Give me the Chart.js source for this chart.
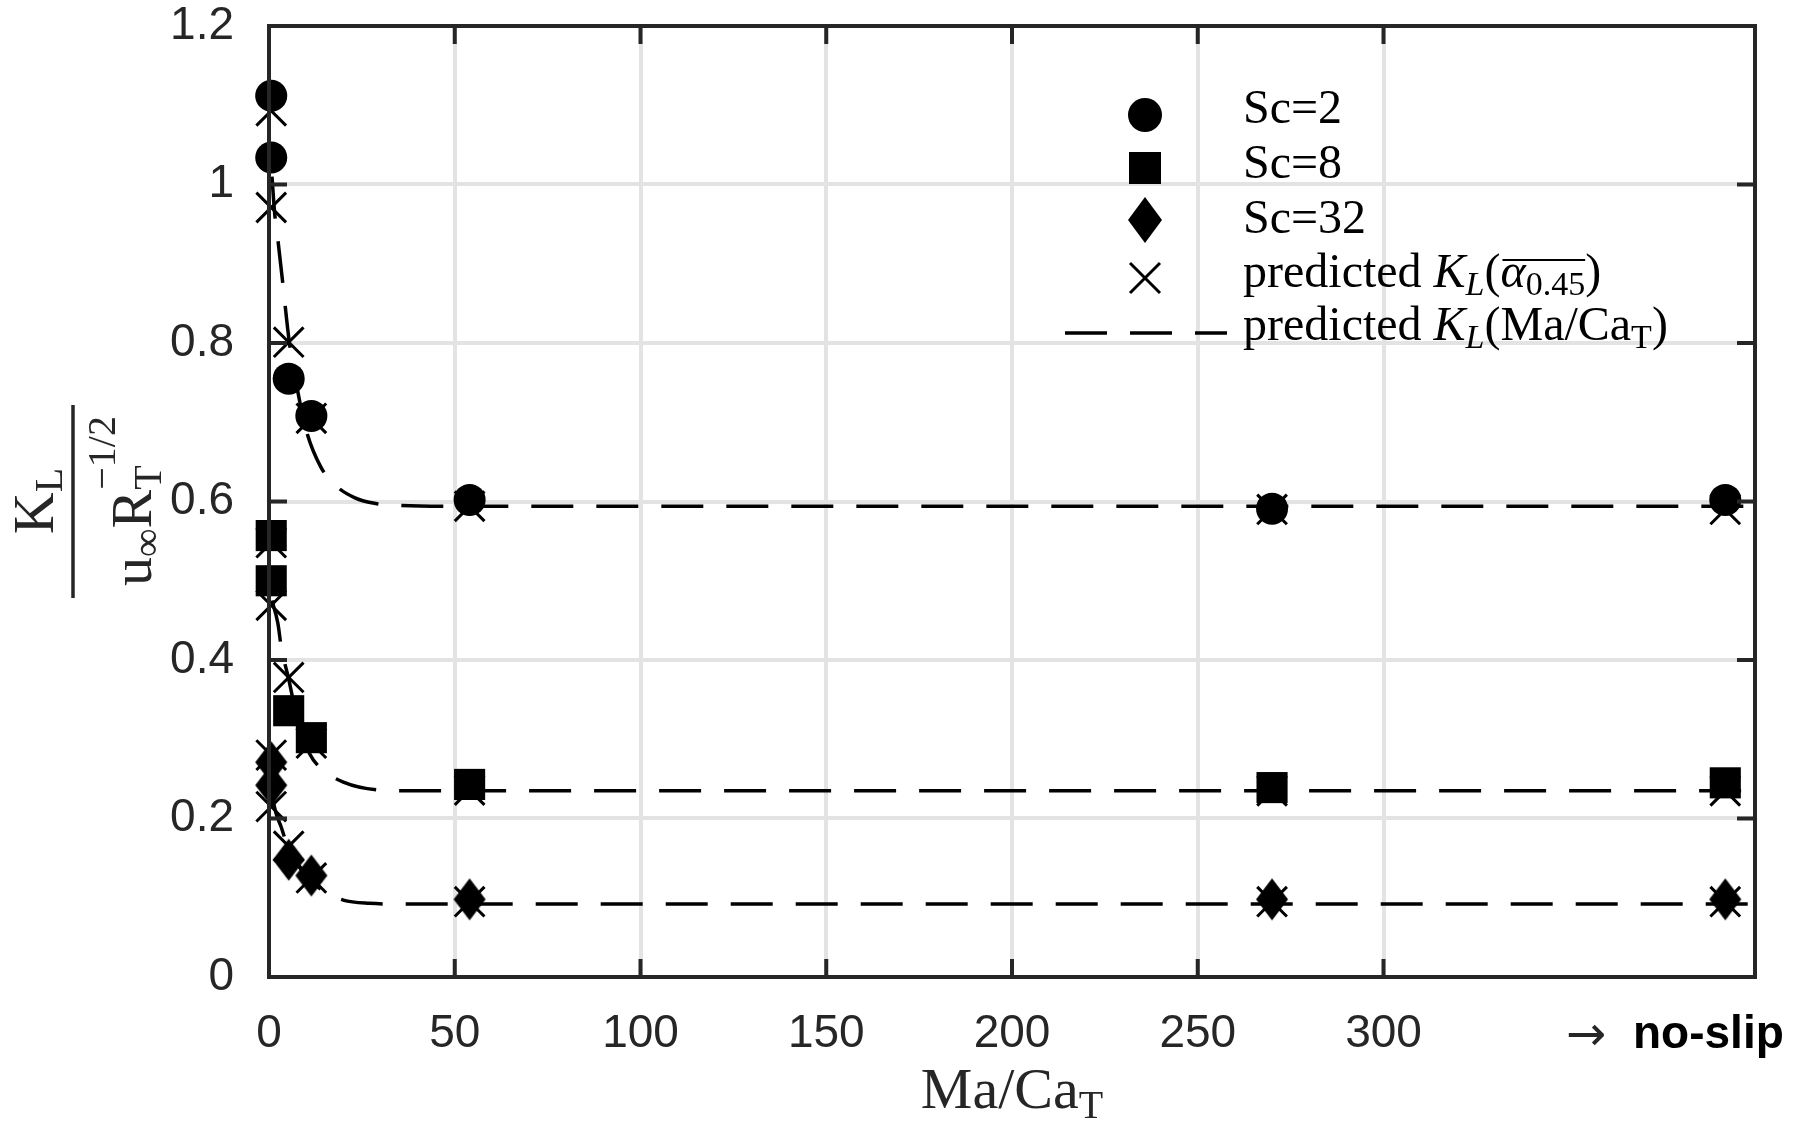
<!DOCTYPE html>
<html>
<head>
<meta charset="utf-8">
<title>K_L vs Ma/Ca_T</title>
<script src="https://cdn.jsdelivr.net/npm/chart.js@4.4.0/dist/chart.umd.min.js"></script>
<style>
    body { margin: 0; background: #fff; }
    #wrap { width: 1810px; height: 1121px; }
</style>
</head>
<body>
<div id="wrap"><canvas id="chart"></canvas></div>
<script>
//Ma/Ca_T of the runs, last column is the no-slip case
var maCa = [0.6, 0.6, 5.3, 11.4, 54, 270, 392];
//measured K_L / (u R^-1/2)
var sc2 = [1.112, 1.034, 0.755, 0.708, 0.602, 0.591, 0.602];
var sc8 = [0.557, 0.500, 0.336, 0.302, 0.243, 0.239, 0.245];
var sc32 = [0.271, 0.242, 0.148, 0.128, 0.098, 0.098, 0.098];
//predicted K_L(alpha 0.45)
var predAlpha2 = [1.093, 0.971, 0.801, 0.705, 0.594, 0.590, 0.590];
var predAlpha8 = [0.548, 0.469, 0.378, 0.295, 0.236, 0.235, 0.235];
var predAlpha32 = [0.280, 0.215, 0.165, 0.125, 0.095, 0.095, 0.095];
//predicted K_L(Ma/Ca_T) curves
var curve2X = [0.8, 1.5, 2.4, 3.6, 5.5, 7.5, 10, 14, 18.5, 23, 28, 35, 50, 400];
var curve2Y = [1.01, 0.965, 0.93, 0.88, 0.80, 0.745, 0.69, 0.643, 0.618, 0.605, 0.598, 0.595, 0.594, 0.594];
var curve8X = [0.8, 2.4, 3.3, 5.2, 8, 10.9, 14, 20, 30, 40, 400];
var curve8Y = [0.475, 0.446, 0.416, 0.378, 0.318, 0.282, 0.263, 0.246, 0.236, 0.235, 0.235];
var curve32X = [0.8, 2, 3.3, 4.5, 6.5, 9, 12, 14.5, 20, 27, 37, 400];
var curve32Y = [0.228, 0.205, 0.189, 0.172, 0.152, 0.133, 0.118, 0.109, 0.097, 0.093, 0.092, 0.092];
//axes
var xTicks = [0, 50, 100, 150, 200, 250, 300];
var yTicks = [0, 0.2, 0.4, 0.6, 0.8, 1, 1.2];

var dark = '#262626';
var serif = '"Liberation Serif", "Times New Roman", serif';
var sans = '"Liberation Sans", Arial, sans-serif';

function pts(xs, ys) {
    return xs.map(function (x, i) { return { x: x, y: ys[i] }; });
}

//Matlab-like diamond (taller than wide)
function makeDiamond(w, h) {
    var c = document.createElement('canvas');
    c.width = w + 2;
    c.height = h + 2;
    var g = c.getContext('2d');
    g.fillStyle = '#000';
    g.beginPath();
    g.moveTo(1 + w / 2, 1);
    g.lineTo(1 + w, 1 + h / 2);
    g.lineTo(1 + w / 2, 1 + h);
    g.lineTo(1, 1 + h / 2);
    g.closePath();
    g.fill();
    return c;
}
var diamondPlot = makeDiamond(32, 42);
var diamondLegend = makeDiamond(34, 46);

//text with sub/superscripts, returns width
function richText(ctx, x, y, parts, draw, overH) {
    var cx = x, lastStart = x, ox0 = null, ox1 = null;
    parts.forEach(function (p) {
        ctx.font = (p.style || 'normal') + ' ' + p.size + 'px ' + (p.family || serif);
        var w = ctx.measureText(p.t).width;
        var start = p.stack ? lastStart : cx;
        if (draw) ctx.fillText(p.t, start, y + (p.dy || 0));
        if (p.over) {
            ox0 = ox0 === null ? start : Math.min(ox0, start);
            ox1 = ox1 === null ? start + w : Math.max(ox1, start + w);
        }
        cx = Math.max(cx, start + w);
        lastStart = start;
    });
    if (draw && ox0 !== null) {
        ctx.save();
        ctx.lineWidth = 2;
        ctx.beginPath();
        ctx.moveTo(ox0 + 2, y - overH);
        ctx.lineTo(ox1, y - overH);
        ctx.stroke();
        ctx.restore();
    }
    return cx - x;
}

var decorPlugin = {
    id: 'decor',
    afterDraw: function (chart) {
        var ctx = chart.ctx;
        var a = chart.chartArea;
        var xs = chart.scales.x, ys = chart.scales.y;
        ctx.save();
        ctx.strokeStyle = dark;
        ctx.fillStyle = dark;
        //inward ticks
        ctx.lineWidth = 4;
        ctx.beginPath();
        xTicks.forEach(function (v) {
            var p = xs.getPixelForValue(v);
            ctx.moveTo(p, a.bottom); ctx.lineTo(p, a.bottom - 18);
            ctx.moveTo(p, a.top); ctx.lineTo(p, a.top + 18);
        });
        yTicks.forEach(function (v) {
            var p = ys.getPixelForValue(v);
            ctx.moveTo(a.left, p); ctx.lineTo(a.left + 18, p);
            ctx.moveTo(a.right, p); ctx.lineTo(a.right - 18, p);
        });
        ctx.stroke();
        //box
        ctx.strokeRect(a.left, a.top, a.right - a.left, a.bottom - a.top);

        //x title
        ctx.textBaseline = 'alphabetic';
        ctx.textAlign = 'left';
        var xt = [{ t: 'Ma/Ca', size: 58 }, { t: 'T', size: 40, dy: 10 }];
        var w = richText(ctx, 0, 0, xt, false);
        richText(ctx, (a.left + a.right) / 2 - w / 2, 1108, xt, true);

        //y title (fraction, rotated)
        ctx.save();
        ctx.translate(73, 501);
        ctx.rotate(-Math.PI / 2);
        ctx.lineWidth = 3.5;
        ctx.beginPath();
        ctx.moveTo(-97, 0);
        ctx.lineTo(96, 0);
        ctx.stroke();
        var num = [{ t: 'K', size: 58 }, { t: 'L', size: 40, dy: 9 }];
        w = richText(ctx, 0, 0, num, false);
        richText(ctx, -w / 2, -20, num, true);
        var den = [
            { t: 'u', size: 58 },
            { t: '\u221E', size: 40, dy: 9 },
            { t: 'R', size: 58 },
            { t: 'T', size: 40, dy: 10 },
            { t: '\u22121/2', size: 40, dy: -36, stack: true }
        ];
        w = richText(ctx, 0, 0, den, false);
        richText(ctx, -w / 2, 78, den, true);
        ctx.restore();

        //no-slip label
        ctx.font = '48px "DejaVu Sans", ' + sans;
        ctx.fillText('\u2192', 1566, 1050);
        ctx.font = 'bold 46px ' + sans;
        ctx.fillStyle = '#000';
        ctx.fillText('no-slip', 1633, 1048);

        //legend
        ctx.fillStyle = '#000';
        ctx.strokeStyle = '#000';
        var mx = 1145, tx = 1243;
        ctx.beginPath();
        ctx.arc(mx, 115, 17, 0, Math.PI * 2);
        ctx.fill();
        ctx.fillRect(mx - 16, 168 - 16, 32, 32);
        ctx.drawImage(diamondLegend, mx - diamondLegend.width / 2, 220 - diamondLegend.height / 2);
        ctx.lineWidth = 3;
        ctx.beginPath();
        ctx.moveTo(mx - 15, 278 - 15); ctx.lineTo(mx + 15, 278 + 15);
        ctx.moveTo(mx + 15, 278 - 15); ctx.lineTo(mx - 15, 278 + 15);
        ctx.stroke();
        ctx.lineWidth = 3.5;
        ctx.setLineDash([42, 23]);
        ctx.beginPath();
        ctx.moveTo(1065, 333); ctx.lineTo(1227, 333);
        ctx.stroke();
        ctx.setLineDash([]);

        richText(ctx, tx, 123, [{ t: 'Sc=2', size: 48 }], true);
        richText(ctx, tx, 178, [{ t: 'Sc=8', size: 48 }], true);
        richText(ctx, tx, 233, [{ t: 'Sc=32', size: 48 }], true);
        richText(ctx, tx, 287, [
            { t: 'predicted ', size: 48 },
            { t: 'K', size: 48, style: 'italic' },
            { t: 'L', size: 34, style: 'italic', dy: 8 },
            { t: '(', size: 48 },
            { t: '\u03B1', size: 48, style: 'italic', over: true },
            { t: '0.45', size: 34, dy: 8, over: true },
            { t: ')', size: 48 }
        ], true, 27);
        richText(ctx, tx, 340, [
            { t: 'predicted ', size: 48 },
            { t: 'K', size: 48, style: 'italic' },
            { t: 'L', size: 34, style: 'italic', dy: 8 },
            { t: '(Ma/Ca', size: 48 },
            { t: 'T', size: 34, dy: 8 },
            { t: ')', size: 48 }
        ], true);
        ctx.restore();
    }
};

var markerBase = { showLine: false, backgroundColor: '#000', borderColor: '#000', borderWidth: 0, clip: false };

var datasets = [
    Object.assign({ label: 'Sc=2', data: pts(maCa, sc2), pointStyle: 'circle', pointRadius: 16 }, markerBase),
    Object.assign({ label: 'Sc=8', data: pts(maCa, sc8), pointStyle: 'rect', pointRadius: 22 }, markerBase),
    Object.assign({ label: 'Sc=32', data: pts(maCa, sc32), pointStyle: diamondPlot, pointRadius: 16 }, markerBase),
    {
        label: 'predicted K_L(alpha)',
        data: pts(maCa.concat(maCa, maCa), predAlpha2.concat(predAlpha8, predAlpha32)),
        showLine: false, pointStyle: 'crossRot', pointRadius: 21, borderWidth: 3,
        borderColor: '#000', backgroundColor: '#000', clip: false
    }
];
[[curve2X, curve2Y], [curve8X, curve8Y], [curve32X, curve32Y]].forEach(function (c) {
    datasets.push({
        label: 'predicted K_L(Ma/Ca_T)',
        data: pts(c[0], c[1]),
        showLine: true, pointRadius: 0, borderColor: '#000', borderWidth: 3.5,
        borderDash: [42, 23], cubicInterpolationMode: 'monotone', fill: false
    });
});

var chart = new Chart(document.getElementById('chart'), {
    type: 'scatter',
    data: { datasets: datasets },
    options: {
        responsive: true,
        maintainAspectRatio: false,
        devicePixelRatio: 1,
        animation: false,
        events: [],
        layout: { padding: { left: 0, top: 26, right: 55, bottom: 0 } },
        plugins: { legend: { display: false }, tooltip: { enabled: false } },
        scales: {
            x: {
                type: 'linear', min: 0, max: 400,
                afterBuildTicks: function (s) { s.ticks = xTicks.map(function (v) { return { value: v }; }); },
                afterFit: function (s) { s.height = 144; s.paddingLeft = 0; s.paddingRight = 0; },
                grid: { color: '#e3e3e3', lineWidth: 4, drawTicks: false },
                border: { display: false },
                ticks: {
                    color: dark, padding: 30, maxRotation: 0, autoSkip: false,
                    font: { family: sans, size: 46 },
                    callback: function (v) { return String(v); }
                }
            },
            y: {
                type: 'linear', min: 0, max: 1.2,
                afterBuildTicks: function (s) { s.ticks = yTicks.map(function (v) { return { value: v }; }); },
                afterFit: function (s) { s.width = 269; s.paddingTop = 0; s.paddingBottom = 0; },
                grid: { color: '#e3e3e3', lineWidth: 4, drawTicks: false },
                border: { display: false },
                ticks: {
                    color: dark, padding: 35, autoSkip: false,
                    font: { family: sans, size: 46 },
                    callback: function (v) { return String(Math.round(v * 10) / 10); }
                }
            }
        }
    },
    plugins: [decorPlugin]
});
</script>
</body>
</html>
